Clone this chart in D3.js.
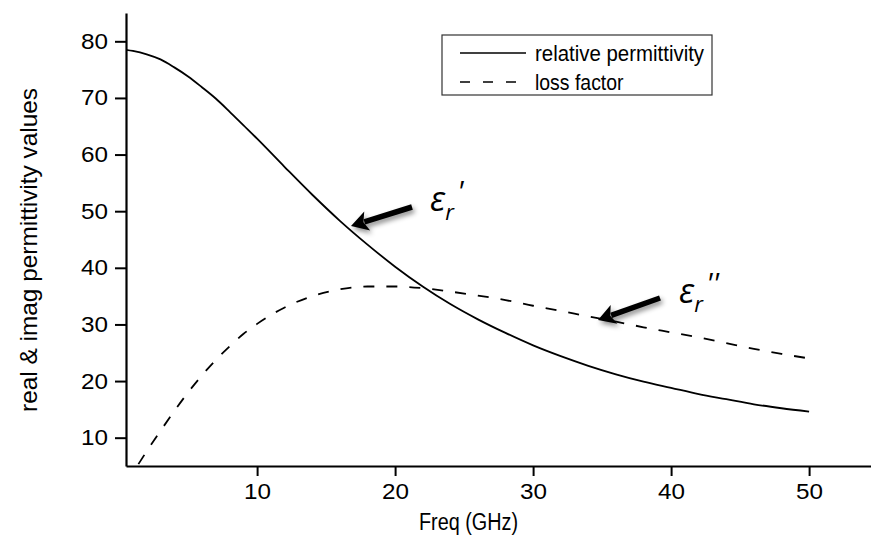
<!DOCTYPE html>
<html>
<head>
<meta charset="utf-8">
<script src="https://cdn.jsdelivr.net/npm/d3@7"></script>
<style>
  body { margin: 0; background: #fff; }
  text { font-family: "Liberation Sans", Arial, sans-serif; fill: #000; }
</style>
</head>
<body>
<div id="chart"></div>
<script>
// values
const freq = [0.5, 1, 2, 3, 4, 5, 6, 7, 8, 9, 10, 12, 14, 16, 18, 20, 22, 24, 26, 28, 30, 32, 34, 36, 38, 40, 42, 44, 46, 48, 50]
const realPerm = [78.5, 78.3, 77.7, 76.8, 75.4, 73.8, 71.9, 69.9, 67.6, 65.2, 62.8, 57.8, 52.9, 48.3, 44.1, 40.2, 36.7, 33.6, 30.9, 28.5, 26.3, 24.4, 22.7, 21.2, 19.9, 18.8, 17.7, 16.8, 15.9, 15.2, 14.6]
const lossFactor = [1.9, 3.8, 7.6, 11.2, 14.7, 18.0, 21.0, 23.7, 26.1, 28.3, 30.1, 33.0, 35.0, 36.2, 36.7, 36.7, 36.4, 35.8, 35.1, 34.3, 33.3, 32.4, 31.4, 30.5, 29.5, 28.6, 27.7, 26.7, 25.7, 24.8, 24.0]
const xMajor = [10, 20, 30, 40, 50]
const xMinor = [5, 15, 25, 35, 45]
const yMajor = [10, 20, 30, 40, 50, 60, 70, 80]
const yMinor = [15, 25, 35, 45, 55, 65, 75, 85]
const legendLabels = ["relative permittivity", "loss factor"]

function drawChart() {
  const width = 871
  const height = 542
  const left = 126, bottom = 466, top = 13

  const svg = d3.select("#chart").append("svg")
      .attr("width", width)
      .attr("height", height)

  // scales
  const x = d3.scaleLinear().domain([0.5, 55]).range([left, left + 54.5 * 13.8])
  const y = d3.scaleLinear().domain([5, 85]).range([bottom, top])

  const defs = svg.append("defs")
  defs.append("clipPath").attr("id", "plot-clip")
    .append("rect")
      .attr("x", left).attr("y", top)
      .attr("width", width - left).attr("height", bottom - top)
  const shadow = defs.append("filter").attr("id", "shadow")
      .attr("x", "-50%").attr("y", "-50%").attr("width", "200%").attr("height", "200%")
  shadow.append("feDropShadow")
      .attr("dx", 2).attr("dy", 3).attr("stdDeviation", 2.5)
      .attr("flood-color", "#000").attr("flood-opacity", 0.45)

  // axes
  const xAxis = svg.append("g").attr("transform", `translate(0,${bottom})`)
  xAxis.call(d3.axisBottom(x).tickValues(xMinor).tickSize(7).tickSizeOuter(0).tickFormat(""))
  xAxis.call(d3.axisBottom(x).tickValues(xMajor).tickSize(10).tickSizeOuter(0).tickPadding(7))
  const yAxis = svg.append("g").attr("transform", `translate(${left},0)`)
  yAxis.call(d3.axisLeft(y).tickValues(yMinor).tickSize(7).tickSizeOuter(0).tickFormat(""))
  yAxis.call(d3.axisLeft(y).tickValues(yMajor).tickSize(11).tickSizeOuter(0).tickPadding(7))

  svg.selectAll(".domain").attr("stroke", "#000").attr("stroke-width", 2.2)
  svg.selectAll(".tick line").attr("stroke", "#000").attr("stroke-width", 2)
  svg.selectAll(".tick text")
      .style("font-family", "Liberation Sans, Arial, sans-serif")
      .attr("font-size", 22)
      .attr("textLength", 27)
      .attr("lengthAdjust", "spacingAndGlyphs")

  // axis titles
  svg.append("text")
      .attr("x", (left + 809) / 2 + 1)
      .attr("y", 530)
      .attr("text-anchor", "middle")
      .attr("font-size", 23)
      .attr("textLength", 99)
      .attr("lengthAdjust", "spacingAndGlyphs")
      .text("Freq (GHz)")
  svg.append("text")
      .attr("transform", "translate(37,250) rotate(-90)")
      .attr("text-anchor", "middle")
      .attr("font-size", 24)
      .attr("textLength", 324)
      .attr("lengthAdjust", "spacingAndGlyphs")
      .text("real & imag permittivity values")

  // lines
  const plot = svg.append("g").attr("clip-path", "url(#plot-clip)")
  const lineGen = d3.line().x((d, i) => x(freq[i])).y(d => y(d)).curve(d3.curveMonotoneX)

  plot.append("path")
      .datum(realPerm)
      .attr("d", lineGen)
      .attr("fill", "none")
      .attr("stroke", "#000")
      .attr("stroke-width", 1.8)
  plot.append("path")
      .datum(lossFactor)
      .attr("d", lineGen)
      .attr("fill", "none")
      .attr("stroke", "#000")
      .attr("stroke-width", 1.8)
      .attr("stroke-dasharray", "11,12")

  // legend
  const legend = svg.append("g")
  legend.append("rect")
      .attr("x", 442).attr("y", 35)
      .attr("width", 270).attr("height", 60)
      .attr("fill", "#fff")
      .attr("stroke", "#333")
      .attr("stroke-width", 1.2)
  legendLabels.forEach((label, i) => {
    const ly = 53 + i * 29
    legend.append("line")
        .attr("x1", 460).attr("x2", i == 0 ? 526 : 518)
        .attr("y1", ly).attr("y2", ly)
        .attr("stroke", "#000")
        .attr("stroke-width", 1.6)
        .attr("stroke-dasharray", i == 0 ? null : "10,13")
    legend.append("text")
        .attr("x", 535).attr("y", ly + 8)
        .attr("font-size", 22)
        .attr("textLength", label.length * 8.05)
        .attr("lengthAdjust", "spacingAndGlyphs")
        .text(label)
  })

  // annotation arrows
  const arrows = [
    {from: [412, 207], to: [351, 226]},
    {from: [660, 298], to: [598, 320]}
  ]
  arrows.forEach(a => {
    const dx = a.to[0] - a.from[0], dy = a.to[1] - a.from[1]
    const len = Math.hypot(dx, dy)
    const ux = dx / len, uy = dy / len
    const headLen = 17, headW = 10
    const bx = a.to[0] - ux * headLen, by = a.to[1] - uy * headLen
    const g = svg.append("g").attr("filter", "url(#shadow)")
    g.append("line")
        .attr("x1", a.from[0]).attr("y1", a.from[1])
        .attr("x2", bx + ux * 3).attr("y2", by + uy * 3)
        .attr("stroke", "#000").attr("stroke-width", 5.5)
    g.append("path")
        .attr("d", `M${a.to[0]},${a.to[1]}L${bx - uy * headW},${by + ux * headW}L${bx + ux * 4},${by + uy * 4}L${bx + uy * headW},${by - ux * headW}Z`)
        .attr("fill", "#000")
  })

  // epsilon labels
  const epsLabels = [
    {x: 430, y: 211, prime: "'"},
    {x: 679, y: 303, prime: "''"}
  ]
  epsLabels.forEach(e => {
    const t = svg.append("text")
        .attr("x", e.x).attr("y", e.y)
        .attr("font-size", 34)
        .attr("font-style", "italic")
        .style("font-family", "Open Sans, DejaVu Sans, sans-serif")
    t.append("tspan").text("ε")
    t.append("tspan").attr("font-size", 22).attr("dy", 9).text("r")
    t.append("tspan").attr("font-size", 30).attr("dy", -18).attr("dx", 3).text(e.prime)
  })
}

window.onload = function () {
  drawChart()
}
</script>
</body>
</html>
